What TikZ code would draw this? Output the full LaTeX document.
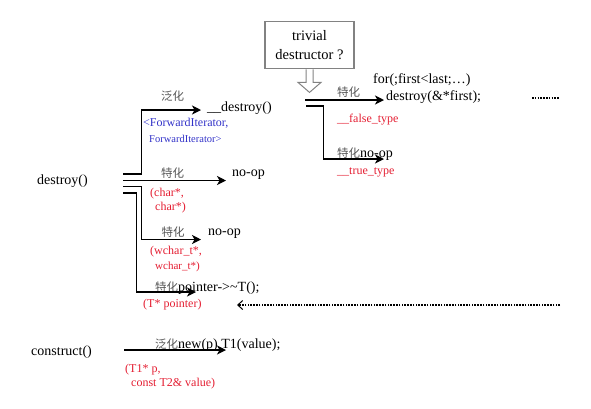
\documentclass[tikz,border=0pt]{standalone}
\usepackage{fontspec}
\setmainfont{Liberation Serif}
\newfontfamily\cjk{Noto Sans CJK SC}
\usetikzlibrary{arrows.meta}
\definecolor{tred}{RGB}{228,30,50}
\definecolor{tblue}{RGB}{50,50,200}
\definecolor{tgray}{RGB}{85,85,85}
\definecolor{boxgray}{RGB}{130,130,130}
\newcommand\cjkgray[1]{{\cjk\fontsize{11.5}{13}\selectfont\color{tgray}#1}}
\begin{document}
\begin{tikzpicture}[x=1pt,y=-1pt,
  lbl/.style={anchor=west,inner sep=0pt,font=\fontsize{14}{16}\selectfont},
  redlbl/.style={anchor=west,inner sep=0pt,text=tred,font=\fontsize{12}{14}\selectfont},
  bluelbl/.style={anchor=west,inner sep=0pt,text=tblue,font=\fontsize{12}{14}\selectfont},
  cjklbl/.style={anchor=west,inner sep=0pt,text=tgray,font=\cjk\fontsize{11.5}{13}\selectfont},
  conn/.style={line width=1.2pt,-{Stealth[length=9pt,width=9pt,inset=2.5pt]}},
  dotline/.style={line width=1.6pt,dash pattern=on 1.6pt off 1.2pt}
]
\useasboundingbox (0,0) rectangle (591,408);

% left entry nodes
\node[lbl] (destroy) at (37,181) {destroy()};
\node[lbl] (construct) at (31,352) {construct()};

% start / end coordinates of connectors
\coordinate (s1) at (123,174);
\coordinate (s2) at (123,180.5);
\coordinate (s3) at (123,186.5);
\coordinate (s4) at (123,193);
\coordinate (t1) at (201,110);
\coordinate (t2) at (226,180.5);
\coordinate (t3) at (201,239.5);
\coordinate (t4) at (196,292);
\coordinate (sc) at (124,350);
\coordinate (tc) at (226,350);

% labels branch 1
\node[cjklbl] (g1) at (161,96.5) {泛化};
\node[lbl] (ddestroy) at (207,108) {\_\_destroy()};
\node[bluelbl] (fi1) at (143,123) {<ForwardIterator,};
\node[bluelbl,font=\fontsize{10.5}{12}\selectfont] (fi2) at (149,138.5) {ForwardIterator>};

% branch 2
\node[cjklbl] (sp2) at (161,173) {特化};
\node[lbl] (noop1) at (232,175) {no-op};
\node[redlbl] (ch1) at (150,194) {(char*,};
\node[redlbl] (ch2) at (155,207.5) {char*)};

% branch 3
\node[cjklbl] (sp3) at (161.5,232.5) {特化};
\node[lbl] (noop2) at (208,234) {no-op};
\node[redlbl] (wc1) at (150,252) {(wchar\_t*,};
\node[redlbl,font=\fontsize{11}{13}\selectfont] (wc2) at (155,267) {wchar\_t*)};

% branch 4
\node[lbl] (ptr) at (155,288) {\cjkgray{特化}pointer->\textasciitilde T();};
\node[redlbl] (tp) at (143,305) {(T* pointer)};

% construct
\node[lbl] (newp) at (155,345) {\cjkgray{泛化}new(p) T1(value);};
\node[redlbl] (cp1) at (125,370) {(T1* p,};
\node[redlbl] (cp2) at (131,384) {const T2\& value)};

% connectors
\draw[conn] (s1) -- (141.7,174) |- (t1);
\draw[conn] (s2) -- (t2);
\draw[conn] (s3) -- (141.7,186.5) |- (t3);
\draw[conn] (s4) -- (136.7,193) |- (t4);
\draw[conn] (sc) -- (tc);

% trivial destructor box
\node[draw=boxgray,line width=1.2pt,minimum width=89pt,minimum height=47pt,
      align=center,inner sep=2pt,font=\fontsize{14.5}{19}\selectfont] (box) at (309.5,45.3)
      {trivial\\destructor ?};
\draw[boxgray,line width=1pt] ([xshift=-3.5pt]box.south) -- ++(0,13) -- ++(-8,0)
      -- ++(11.5,10) -- ++(11.5,-10) -- ++(-8,0) -- ++(0,-13);

% right branch
\coordinate (r1) at (305,100);
\coordinate (r2) at (306,106);
\coordinate (rt1) at (384,100);
\coordinate (rt2) at (384,159);
\node[cjklbl] (sp5) at (337,92) {特化};
\node[lbl] (forl) at (373,80) {for(;first<last;…)};
\node[lbl] (dfirst) at (386,97) {destroy(\&*first);};
\node[redlbl] (ft) at (337,120) {\_\_false\_type};
\node[lbl] (noop3) at (337,154) {\cjkgray{特化}no-op};
\node[redlbl] (tt) at (337,172) {\_\_true\_type};
\draw[conn] (r1) -- (rt1);
\draw[conn] (r2) -- (323.3,106) |- (rt2);

% dotted connectors
\coordinate (d1) at (532,98);
\coordinate (d2) at (559,98);
\draw[dotline] (d1) -- (d2);
\coordinate (e1) at (560,305);
\coordinate (e2) at (237,305);
\draw[dotline,-{Straight Barb[length=5pt,width=9pt,line width=1pt]}] (e1) -- (e2);
\end{tikzpicture}
\end{document}
